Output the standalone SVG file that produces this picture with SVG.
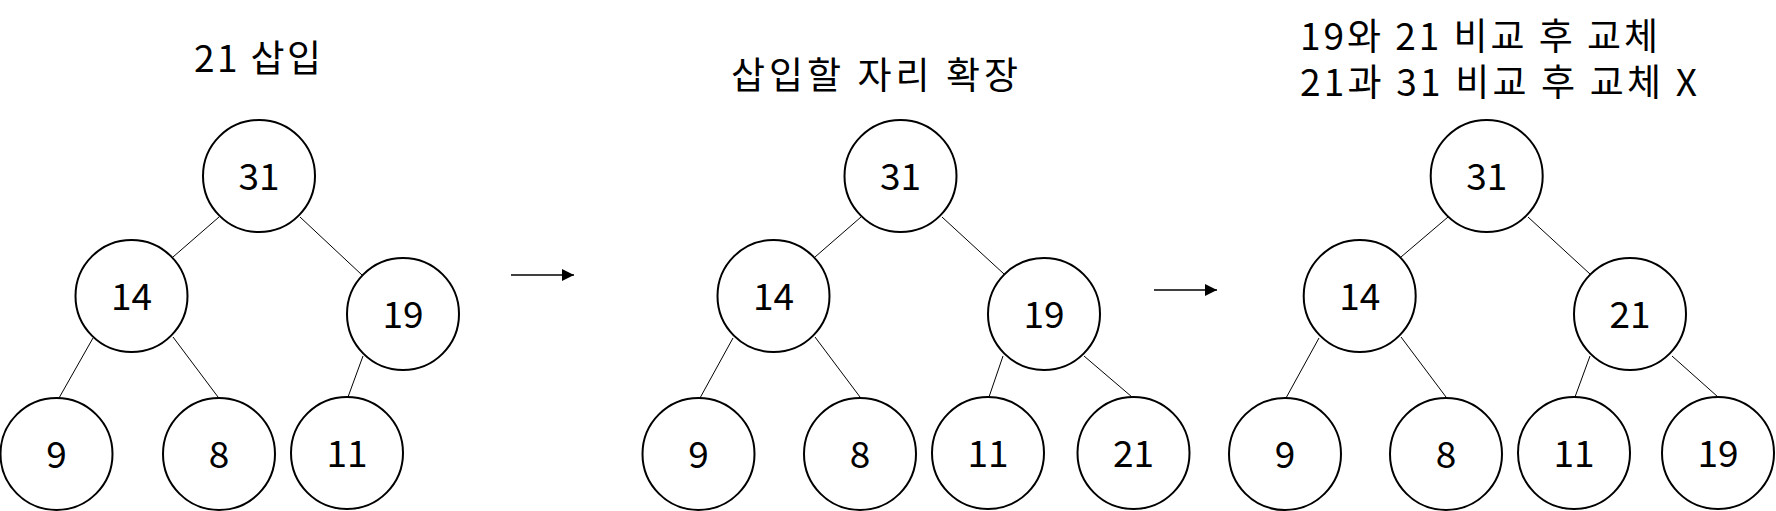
<svg xmlns="http://www.w3.org/2000/svg" width="1776" height="511" viewBox="0 0 1776 511">
<defs>
<style>
.node circle{fill:#fff;stroke:#000;stroke-width:2}
.node text,.title{font-family:"Noto Sans CJK KR","Noto Sans",sans-serif;font-size:37px;fill:#000}
.node text{text-anchor:middle}
.edge{stroke:#000;stroke-width:1;fill:none}
.arrow{stroke:#000;stroke-width:1.3;fill:none}
</style>
<marker id="ah" viewBox="0 0 12 12" refX="12" refY="6" markerWidth="12" markerHeight="12" markerUnits="userSpaceOnUse" orient="auto">
<path d="M0,0 L12,6 L0,12 Z" fill="#000"/>
</marker>
</defs>
<rect width="1776" height="511" fill="#fff"/>
<g id="titles">
<text class="title" x="257.5" y="72" text-anchor="middle" textLength="127" lengthAdjust="spacing">21 삽입</text>
<text class="title" x="874.5" y="89" text-anchor="middle" textLength="287" lengthAdjust="spacing">삽입할 자리 확장</text>
<text class="title"><tspan x="1300" y="50" textLength="358" lengthAdjust="spacing">19와 21 비교 후 교체</tspan><tspan x="1300" y="96" textLength="397" lengthAdjust="spacing">21과 31 비교 후 교체 X</tspan></text>
</g>
<g id="connectors">
<line class="edge" x1="219" y1="217" x2="173" y2="257"/>
<line class="edge" x1="300" y1="217" x2="362" y2="275"/>
<line class="edge" x1="93" y1="338" x2="59" y2="398"/>
<line class="edge" x1="173" y1="337" x2="218" y2="397"/>
<line class="edge" x1="363" y1="356" x2="348" y2="397"/>
<line class="edge" x1="861" y1="217" x2="815" y2="257"/>
<line class="edge" x1="942" y1="217" x2="1004" y2="274"/>
<line class="edge" x1="733" y1="338" x2="700" y2="398"/>
<line class="edge" x1="815" y1="337" x2="860" y2="397"/>
<line class="edge" x1="1003" y1="356" x2="989" y2="397"/>
<line class="edge" x1="1084" y1="356" x2="1132" y2="397"/>
<line class="edge" x1="1448" y1="217" x2="1401" y2="257"/>
<line class="edge" x1="1528" y1="217" x2="1590" y2="274"/>
<line class="edge" x1="1319" y1="338" x2="1286" y2="398"/>
<line class="edge" x1="1401" y1="337" x2="1446" y2="397"/>
<line class="edge" x1="1590" y1="356" x2="1575" y2="397"/>
<line class="edge" x1="1672" y1="356" x2="1718" y2="397"/>
<line class="arrow" x1="511" y1="275" x2="574" y2="275" marker-end="url(#ah)"/>
<line class="arrow" x1="1154" y1="290" x2="1217" y2="290" marker-end="url(#ah)"/>
</g>
<g id="p1-31" class="node"><circle cx="259" cy="176" r="56"/><text x="259" y="190">31</text></g>
<g id="p1-14" class="node"><circle cx="131.5" cy="296" r="56"/><text x="131.5" y="310">14</text></g>
<g id="p1-19" class="node"><circle cx="403" cy="314" r="56"/><text x="403" y="328">19</text></g>
<g id="p1-9" class="node"><circle cx="56.5" cy="454" r="56"/><text x="56.5" y="468">9</text></g>
<g id="p1-8" class="node"><circle cx="219" cy="454" r="56"/><text x="219" y="468">8</text></g>
<g id="p1-11" class="node"><circle cx="347" cy="453" r="56"/><text x="347" y="467">11</text></g>
<g id="p2-31" class="node"><circle cx="900.5" cy="176" r="56"/><text x="900.5" y="190">31</text></g>
<g id="p2-14" class="node"><circle cx="773.5" cy="296" r="56"/><text x="773.5" y="310">14</text></g>
<g id="p2-19" class="node"><circle cx="1044" cy="314" r="56"/><text x="1044" y="328">19</text></g>
<g id="p2-9" class="node"><circle cx="698.5" cy="454" r="56"/><text x="698.5" y="468">9</text></g>
<g id="p2-8" class="node"><circle cx="860" cy="454" r="56"/><text x="860" y="468">8</text></g>
<g id="p2-11" class="node"><circle cx="988" cy="453" r="56"/><text x="988" y="467">11</text></g>
<g id="p2-21" class="node"><circle cx="1133.5" cy="453" r="56"/><text x="1133.5" y="467">21</text></g>
<g id="p3-31" class="node"><circle cx="1486.7" cy="176" r="56"/><text x="1486.7" y="190">31</text></g>
<g id="p3-14" class="node"><circle cx="1359.7" cy="296" r="56"/><text x="1359.7" y="310">14</text></g>
<g id="p3-21" class="node"><circle cx="1630" cy="314" r="56"/><text x="1630" y="328">21</text></g>
<g id="p3-9" class="node"><circle cx="1285" cy="454" r="56"/><text x="1285" y="468">9</text></g>
<g id="p3-8" class="node"><circle cx="1446" cy="454" r="56"/><text x="1446" y="468">8</text></g>
<g id="p3-11" class="node"><circle cx="1574" cy="453" r="56"/><text x="1574" y="467">11</text></g>
<g id="p3-19" class="node"><circle cx="1718" cy="453" r="56"/><text x="1718" y="467">19</text></g>
</svg>
